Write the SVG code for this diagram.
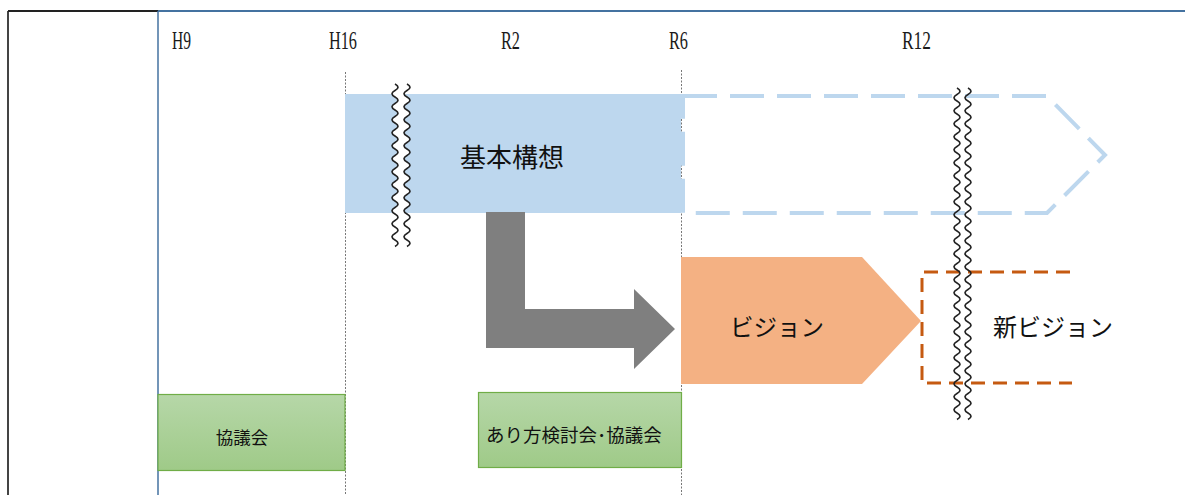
<svg xmlns="http://www.w3.org/2000/svg" width="1185" height="495" viewBox="0 0 1185 495">
<style>
.yr{font-family:"Liberation Serif","DejaVu Serif",serif;font-size:25px;fill:#1a1a1a}
.jp{font-family:"Noto Sans CJK JP","Noto Sans",sans-serif;fill:#111}
.dot{stroke:#777;stroke-width:1;stroke-dasharray:2 1.5;fill:none}
.wave{fill:none;stroke:#222;stroke-width:1.7}
</style>
<defs>
<linearGradient id="gg" x1="0" y1="0" x2="0" y2="1">
<stop offset="0" stop-color="#b6d7a8"/>
<stop offset="1" stop-color="#9fca88"/>
</linearGradient>
</defs>
<rect width="1185" height="495" fill="#fff"/>
<g id="frame">
<line x1="8" y1="11" x2="8" y2="495" stroke="#444" stroke-width="2"/>
<line x1="8" y1="11" x2="158" y2="11" stroke="#222" stroke-width="2"/>
<line x1="158" y1="11" x2="1185" y2="11" stroke="#4472a0" stroke-width="2"/>
<line x1="158" y1="11" x2="158" y2="495" stroke="#4472a0" stroke-width="1.5"/>
</g>
<g id="years">
<text class="yr" x="172" y="49" textLength="19" lengthAdjust="spacingAndGlyphs">H9</text>
<text class="yr" x="329" y="49" textLength="28" lengthAdjust="spacingAndGlyphs">H16</text>
<text class="yr" x="501" y="49" textLength="19" lengthAdjust="spacingAndGlyphs">R2</text>
<text class="yr" x="669" y="49" textLength="19" lengthAdjust="spacingAndGlyphs">R6</text>
<text class="yr" x="902" y="49" textLength="29" lengthAdjust="spacingAndGlyphs">R12</text>
</g>
<g id="gridlines">
<line class="dot" x1="345.5" y1="72" x2="345.5" y2="495"/>
<line class="dot" x1="681.5" y1="70" x2="681.5" y2="495"/>
</g>
<g id="kihon-future">
<path d="M683,96 H1047 L1105,155 L1047,213 H683 Z" fill="none" stroke="#bdd7ee" stroke-width="4" stroke-dasharray="34 13"/>
</g>
<g id="kihon">
<rect x="345" y="94" width="336" height="119" fill="#bdd7ee"/>
<text class="jp" x="512" y="167" font-size="26" text-anchor="middle">基本構想</text>
</g>
<g id="break1">
<path d="M395,84 q6,3.25 0,6.5 t0,6.5 t0,6.5 t0,6.5 t0,6.5 t0,6.5 t0,6.5 t0,6.5 t0,6.5 t0,6.5 t0,6.5 t0,6.5 t0,6.5 t0,6.5 t0,6.5 t0,6.5 t0,6.5 t0,6.5 t0,6.5 t0,6.5 t0,6.5 t0,6.5 t0,6.5 t0,6.5 t0,6.5 L407,246.5 q6,-3.25 0,-6.5 t0,-6.5 t0,-6.5 t0,-6.5 t0,-6.5 t0,-6.5 t0,-6.5 t0,-6.5 t0,-6.5 t0,-6.5 t0,-6.5 t0,-6.5 t0,-6.5 t0,-6.5 t0,-6.5 t0,-6.5 t0,-6.5 t0,-6.5 t0,-6.5 t0,-6.5 t0,-6.5 t0,-6.5 t0,-6.5 t0,-6.5 t0,-6.5 Z" fill="#fff"/>
<path class="wave" d="M395,84 q6,3.25 0,6.5 t0,6.5 t0,6.5 t0,6.5 t0,6.5 t0,6.5 t0,6.5 t0,6.5 t0,6.5 t0,6.5 t0,6.5 t0,6.5 t0,6.5 t0,6.5 t0,6.5 t0,6.5 t0,6.5 t0,6.5 t0,6.5 t0,6.5 t0,6.5 t0,6.5 t0,6.5 t0,6.5 t0,6.5"/>
<path class="wave" d="M407,84 q6,3.25 0,6.5 t0,6.5 t0,6.5 t0,6.5 t0,6.5 t0,6.5 t0,6.5 t0,6.5 t0,6.5 t0,6.5 t0,6.5 t0,6.5 t0,6.5 t0,6.5 t0,6.5 t0,6.5 t0,6.5 t0,6.5 t0,6.5 t0,6.5 t0,6.5 t0,6.5 t0,6.5 t0,6.5 t0,6.5"/>
</g>
<g id="connectors">
<path d="M486,212 H525 V309 H634 V289 L675,329 L634,369 V348 H486 Z" fill="#7f7f7f"/>
</g>
<g id="vision">
<path d="M681,257 H862 L921,321 L862,384 H681 Z" fill="#f4b183"/>
<text class="jp" x="777" y="336" font-size="23.5" text-anchor="middle">ビジョン</text>
</g>
<g id="new-vision">
<path d="M1070,272 H922 V383 H1072" fill="none" stroke="#c55a11" stroke-width="3" stroke-dasharray="14 8"/>
<text class="jp" x="1053" y="336" font-size="24" text-anchor="middle">新ビジョン</text>
</g>
<g id="break2">
<path class="wave" d="M957,88 q6,3.25 0,6.5 t0,6.5 t0,6.5 t0,6.5 t0,6.5 t0,6.5 t0,6.5 t0,6.5 t0,6.5 t0,6.5 t0,6.5 t0,6.5 t0,6.5 t0,6.5 t0,6.5 t0,6.5 t0,6.5 t0,6.5 t0,6.5 t0,6.5 t0,6.5 t0,6.5 t0,6.5 t0,6.5 t0,6.5 t0,6.5 t0,6.5 t0,6.5 t0,6.5 t0,6.5 t0,6.5 t0,6.5 t0,6.5 t0,6.5 t0,6.5 t0,6.5 t0,6.5 t0,6.5 t0,6.5 t0,6.5 t0,6.5 t0,6.5 t0,6.5 t0,6.5 t0,6.5 t0,6.5 t0,6.5 t0,6.5 t0,6.5 t0,6.5 t0,6.5"/>
<path class="wave" d="M968,88 q6,3.25 0,6.5 t0,6.5 t0,6.5 t0,6.5 t0,6.5 t0,6.5 t0,6.5 t0,6.5 t0,6.5 t0,6.5 t0,6.5 t0,6.5 t0,6.5 t0,6.5 t0,6.5 t0,6.5 t0,6.5 t0,6.5 t0,6.5 t0,6.5 t0,6.5 t0,6.5 t0,6.5 t0,6.5 t0,6.5 t0,6.5 t0,6.5 t0,6.5 t0,6.5 t0,6.5 t0,6.5 t0,6.5 t0,6.5 t0,6.5 t0,6.5 t0,6.5 t0,6.5 t0,6.5 t0,6.5 t0,6.5 t0,6.5 t0,6.5 t0,6.5 t0,6.5 t0,6.5 t0,6.5 t0,6.5 t0,6.5 t0,6.5 t0,6.5 t0,6.5"/>
</g>
<g id="kyogikai">
<rect x="158" y="394.5" width="187" height="76" fill="url(#gg)" stroke="#70ad47" stroke-width="1.2"/>
<text class="jp" x="242" y="444" font-size="17.5" text-anchor="middle">協議会</text>
</g>
<g id="arikata">
<rect x="478.5" y="392.5" width="203" height="75" fill="url(#gg)" stroke="#70ad47" stroke-width="1.2"/>
<text class="jp" x="574" y="442" font-size="18.5" text-anchor="middle">あり方検討会･協議会</text>
</g>
</svg>
